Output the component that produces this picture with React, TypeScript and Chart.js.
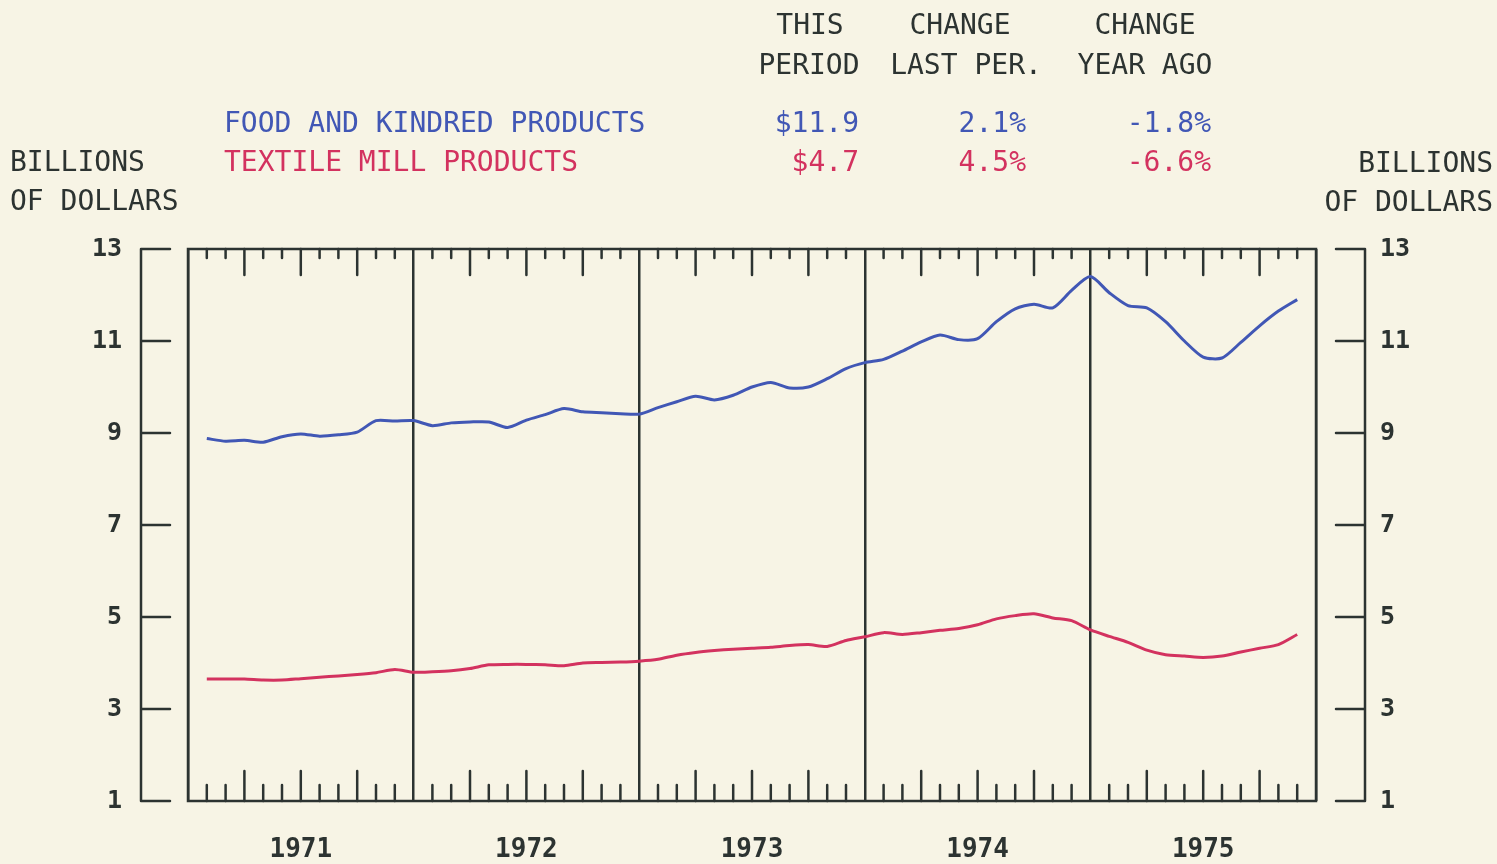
import React, { useEffect, useRef } from "react";
import { Chart, registerables } from "chart.js";

Chart.register(...registerables);

// ---- data (monthly, 1971-1975) ----
const YEARS = ["1971", "1972", "1973", "1974", "1975"];
const FIRST_MONTH = 1; // first observation sits one month after Jan 1971 boundary
const FOOD = [
  8.88, 8.82, 8.84, 8.8, 8.92, 8.98, 8.93, 8.96, 9.02, 9.27, 9.26, 9.27,
  9.16, 9.22, 9.24, 9.24, 9.12, 9.28, 9.4, 9.53, 9.46, 9.44, 9.42, 9.41,
  9.55, 9.68, 9.8, 9.72, 9.82, 10.0, 10.1, 9.98, 10.0, 10.18, 10.4, 10.53,
  10.6, 10.78, 10.98, 11.13, 11.03, 11.05, 11.42, 11.7, 11.8, 11.72, 12.1, 12.4,
  12.05, 11.77, 11.72, 11.42, 11.0, 10.65, 10.63, 10.97, 11.33, 11.65, 11.9,
];
const TEXTILE = [
  3.65, 3.65, 3.65, 3.63, 3.63, 3.66, 3.69, 3.72, 3.75, 3.79, 3.86, 3.8,
  3.81, 3.83, 3.88, 3.96, 3.97, 3.97, 3.96, 3.94, 4.0, 4.01, 4.02, 4.04,
  4.08, 4.17, 4.23, 4.27, 4.3, 4.32, 4.34, 4.38, 4.4, 4.36, 4.49, 4.57,
  4.66, 4.62, 4.66, 4.71, 4.75, 4.83, 4.96, 5.03, 5.07, 4.98, 4.92, 4.72,
  4.58, 4.45, 4.28, 4.18, 4.15, 4.12, 4.15, 4.24, 4.32, 4.4, 4.62,
];
const Y_TICKS = [1, 3, 5, 7, 9, 11, 13];
const SERIES_NAMES = ["FOOD AND KINDRED PRODUCTS", "TEXTILE MILL PRODUCTS"];
const THIS_PERIOD = ["$11.9", "$4.7"];
const CHANGE_LAST = ["2.1%", "4.5%"];
const CHANGE_YEAR = ["-1.8%", "-6.6%"];

const BG = "#f7f4e5";
const INK = "#2c3331";
const BLUE = "#4157b5";
const RED = "#d3325f";
const FONT = '"DejaVu Sans Mono", "Liberation Mono", monospace';

const framePlugin = {
  id: "frame",
  beforeDatasetsDraw(chart: any) {
    const { ctx, chartArea } = chart;
    const xs = chart.scales.x;
    const ys = chart.scales.y;
    const { left, right, top, bottom } = chartArea;
    ctx.save();
    ctx.strokeStyle = INK;
    ctx.lineWidth = 2.5;
    ctx.lineCap = "round";
    ctx.strokeRect(left, top, right - left, bottom - top);
    // month ticks inside the frame
    for (let m = 1; m < 60; m++) {
      if (m % 12 === 0) continue;
      const px = xs.getPixelForValue(m);
      const long = m % 3 === 0;
      ctx.beginPath();
      ctx.moveTo(px, top);
      ctx.lineTo(px, top + (long ? 26 : 9));
      ctx.moveTo(px, bottom);
      ctx.lineTo(px, bottom - (long ? 30 : 16));
      ctx.stroke();
    }
    // bracket axes
    const yTop = ys.getPixelForValue(Y_TICKS[Y_TICKS.length - 1]);
    const yBot = ys.getPixelForValue(Y_TICKS[0]);
    const lx = left - 47;
    const rx = right + 49;
    ctx.beginPath();
    ctx.moveTo(lx, yTop);
    ctx.lineTo(lx, yBot);
    ctx.moveTo(rx, yTop);
    ctx.lineTo(rx, yBot);
    for (const v of Y_TICKS) {
      const py = ys.getPixelForValue(v);
      ctx.moveTo(lx, py);
      ctx.lineTo(lx + 29, py);
      ctx.moveTo(rx, py);
      ctx.lineTo(rx - 29, py);
    }
    ctx.stroke();
    ctx.restore();
  },
};

function Txt(props: {
  x: number;
  y: number;
  align?: "left" | "right" | "center";
  color?: string;
  children: React.ReactNode;
}) {
  const { x, y, align = "left", color = INK } = props;
  const style: React.CSSProperties = {
    position: "absolute",
    top: y - 17,
    height: 34,
    lineHeight: "34px",
    fontFamily: FONT,
    fontSize: 28,
    color,
    whiteSpace: "pre",
  };
  if (align === "left") style.left = x;
  else if (align === "right") style.right = 1497 - x;
  else {
    style.left = x - 200;
    style.width = 400;
    style.textAlign = "center";
  }
  return <div style={style}>{props.children}</div>;
}

const CANVAS_H = 882;

export default function App() {
  const ref = useRef<HTMLCanvasElement | null>(null);

  useEffect(() => {
    if (!ref.current) return;
    const yearTicks: number[] = [];
    for (let v = 0; v <= YEARS.length * 12; v += 6) yearTicks.push(v);
    const chart = new Chart(ref.current, {
      type: "line",
      data: {
        datasets: [
          {
            label: SERIES_NAMES[0],
            data: FOOD.map((v, i) => ({ x: FIRST_MONTH + i, y: v })),
            borderColor: BLUE,
            borderWidth: 3,
            pointRadius: 0,
            tension: 0.25,
            yAxisID: "y",
          },
          {
            label: SERIES_NAMES[1],
            data: TEXTILE.map((v, i) => ({ x: FIRST_MONTH + i, y: v })),
            borderColor: RED,
            borderWidth: 3,
            pointRadius: 0,
            tension: 0.25,
            yAxisID: "y",
          },
        ],
      },
      options: {
        animation: false,
        responsive: false,
        devicePixelRatio: 1,
        layout: { padding: { top: 249, left: 0, right: 0, bottom: 0 } },
        plugins: { legend: { display: false }, tooltip: { enabled: false } },
        scales: {
          x: {
            type: "linear",
            min: 0,
            max: YEARS.length * 12,
            afterBuildTicks: (s: any) => {
              s.ticks = yearTicks.map((v) => ({ value: v }));
            },
            afterFit: (s: any) => {
              s.height = 64;
            },
            border: { display: false },
            grid: {
              drawTicks: false,
              lineWidth: 2.5,
              color: (c: any) =>
                c.tick && c.tick.value % 12 === 0 ? INK : "rgba(0,0,0,0)",
            },
            ticks: {
              autoSkip: false,
              maxRotation: 0,
              padding: 34,
              color: INK,
              font: { family: FONT, size: 26, weight: "bold" },
              callback: (v: any) =>
                Number(v) % 12 === 6 ? YEARS[(Number(v) - 6) / 12] : "",
            },
          },
          y: {
            type: "linear",
            position: "left",
            min: Y_TICKS[0],
            max: Y_TICKS[Y_TICKS.length - 1],
            afterBuildTicks: (s: any) => {
              s.ticks = Y_TICKS.map((v) => ({ value: v }));
            },
            afterFit: (s: any) => {
              s.width = 188;
            },
            border: { display: false },
            grid: { display: false, drawTicks: false },
            ticks: {
              padding: 66,
              color: INK,
              font: { family: FONT, size: 25, weight: "bold" },
            },
          },
          y2: {
            type: "linear",
            position: "right",
            min: Y_TICKS[0],
            max: Y_TICKS[Y_TICKS.length - 1],
            afterBuildTicks: (s: any) => {
              s.ticks = Y_TICKS.map((v) => ({ value: v }));
            },
            afterFit: (s: any) => {
              s.width = 181;
            },
            border: { display: false },
            grid: { display: false, drawTicks: false },
            ticks: {
              padding: 64,
              color: INK,
              font: { family: FONT, size: 25, weight: "bold" },
            },
          },
        },
      } as any,
      plugins: [framePlugin],
    });
    return () => chart.destroy();
  }, []);

  return (
    <div
      style={{
        position: "fixed",
        left: 0,
        top: 0,
        width: 1497,
        height: 864,
        background: BG,
        overflow: "hidden",
      }}
    >
      <canvas
        ref={ref}
        width={1497}
        height={CANVAS_H}
        style={{ position: "absolute", left: 0, top: 0, width: 1497, height: CANVAS_H }}
      />
      <Txt x={810} y={25} align="center">THIS</Txt>
      <Txt x={809} y={65} align="center">PERIOD</Txt>
      <Txt x={960} y={25} align="center">CHANGE</Txt>
      <Txt x={966} y={65} align="center">LAST PER.</Txt>
      <Txt x={1145} y={25} align="center">CHANGE</Txt>
      <Txt x={1145} y={65} align="center">YEAR AGO</Txt>

      <Txt x={224} y={123} color={BLUE}>{SERIES_NAMES[0]}</Txt>
      <Txt x={224} y={162} color={RED}>{SERIES_NAMES[1]}</Txt>
      <Txt x={859} y={123} align="right" color={BLUE}>{THIS_PERIOD[0]}</Txt>
      <Txt x={859} y={162} align="right" color={RED}>{THIS_PERIOD[1]}</Txt>
      <Txt x={1026} y={123} align="right" color={BLUE}>{CHANGE_LAST[0]}</Txt>
      <Txt x={1026} y={162} align="right" color={RED}>{CHANGE_LAST[1]}</Txt>
      <Txt x={1211} y={123} align="right" color={BLUE}>{CHANGE_YEAR[0]}</Txt>
      <Txt x={1211} y={162} align="right" color={RED}>{CHANGE_YEAR[1]}</Txt>

      <Txt x={10} y={162}>BILLIONS</Txt>
      <Txt x={10} y={201}>OF DOLLARS</Txt>
      <Txt x={1493} y={163} align="right">BILLIONS</Txt>
      <Txt x={1493} y={202} align="right">OF DOLLARS</Txt>
    </div>
  );
}
